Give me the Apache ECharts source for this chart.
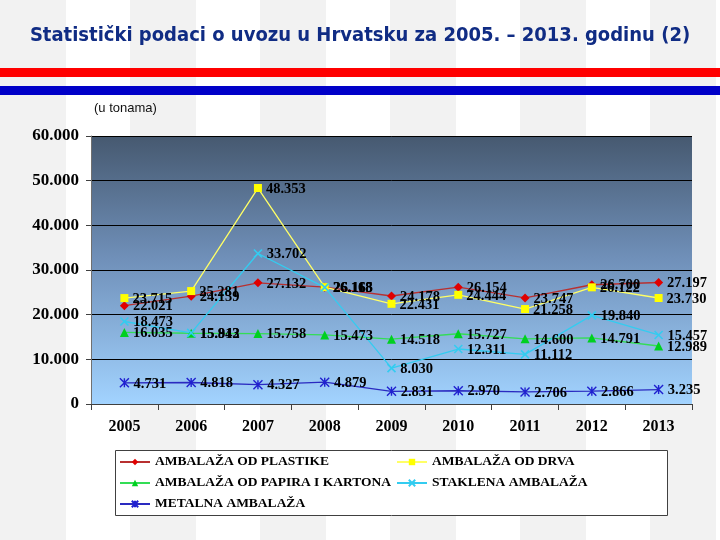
<!DOCTYPE html>
<html>
<head>
<meta charset="utf-8">
<script src="https://cdn.jsdelivr.net/npm/echarts@6/dist/echarts.min.js"></script>
<style>
html,body{margin:0;padding:0;}
body{width:720px;height:540px;background:repeating-linear-gradient(90deg,#f2f2f2 0px,#f2f2f2 66px,#ffffff 66px,#ffffff 130px);}
#chart{width:720px;height:540px;}
</style>
</head>
<body>
<div id="chart"></div>
<script>
var years = ['2005','2006','2007','2008','2009','2010','2011','2012','2013'];
var plastika = [22021, 24139, 27132, 26165, 24178, 26154, 23747, 26700, 27197];
var drvo     = [23715, 25281, 48353, 26168, 22431, 24444, 21258, 26122, 23730];
var papir    = [16035, 15843, 15758, 15473, 14518, 15727, 14600, 14791, 12989];
var staklo   = [18473, 15912, 33702, 26118, 8030, 12311, 11112, 19840, 15457];
var metal    = [4731, 4818, 4327, 4879, 2831, 2970, 2706, 2866, 3235];
var seriesNames = ['AMBALAŽA OD PLASTIKE','AMBALAŽA OD DRVA','AMBALAŽA OD PAPIRA I KARTONA','STAKLENA AMBALAŽA','METALNA AMBALAŽA'];
var yTicks = {min:0, max:60000, interval:10000};

function fmt(v){
  v = Math.round(v);
  if (v < 1000) return String(v);
  var t = Math.floor(v/1000), r = v % 1000;
  return t + '.' + (r < 10 ? '00' + r : r < 100 ? '0' + r : String(r));
}

var labelStyle = {
  show:true, position:'right', distance:4, offset:[0,1],
  fontFamily:'Liberation Serif', fontWeight:'bold', fontSize:14.5, color:'#000',
  formatter:function(p){return fmt(p.value);}
};

function mk(name, data, symbol, size, color, lineColor, extra){
  var s = {
    name:name, type:'line', data:data, symbol:symbol, symbolSize:size,
    itemStyle:{color:color},
    lineStyle:{color:lineColor, width:1.3},
    label:Object.assign({}, labelStyle),
    emphasis:{disabled:true}, animation:false
  };
  if (extra) { for (var k in extra) s[k] = extra[k]; }
  return s;
}

var legendCommon = {
  orient:'vertical', padding:0, itemWidth:30, itemHeight:8, itemGap:7,
  textStyle:{fontFamily:'Liberation Serif', fontWeight:'bold', fontSize:13.5, color:'#000'},
  selectedMode:false
};

var chart = echarts.init(document.getElementById('chart'), null, {renderer:'canvas'});
chart.setOption({
  backgroundColor:'transparent',
  animation:false,
  title:{
    text:'Statistički podaci o uvozu u Hrvatsku za 2005. – 2013. godinu (2)',
    left:'center', top:21,
    textStyle:{fontFamily:'DejaVu Sans Condensed', fontWeight:'bold', fontSize:20, color:'#102c84'}
  },
  graphic:[
    {type:'rect', shape:{x:0,y:68,width:720,height:9}, style:{fill:'#ff0000'}, silent:true},
    {type:'rect', shape:{x:0,y:86,width:720,height:9}, style:{fill:'#0000c8'}, silent:true},
    {type:'text', left:94, top:102, style:{text:'(u tonama)', fontFamily:'Liberation Sans', fontSize:13, fill:'#111'}},
    {type:'rect', shape:{x:115.5,y:450.5,width:552,height:65}, style:{fill:'#ffffff', stroke:'#404040', lineWidth:1}, z:-1, silent:true}
  ],
  grid:{
    left:91, right:28, top:136, bottom:136, show:true, borderWidth:0,
    backgroundColor:new echarts.graphic.LinearGradient(0,0,0,1,[
      {offset:0,color:'#465970'},
      {offset:0.45,color:'#6f8fb8'},
      {offset:1,color:'#a2d3ff'}
    ])
  },
  legend:[
    Object.assign({}, legendCommon, {data:[seriesNames[0], seriesNames[2], seriesNames[4]], left:119, top:455}),
    Object.assign({}, legendCommon, {data:[seriesNames[1], seriesNames[3]], left:396, top:455})
  ],
  xAxis:{
    type:'category', data:years, boundaryGap:true,
    axisLine:{lineStyle:{color:'#404040', width:1}},
    axisTick:{show:true, length:6, lineStyle:{color:'#404040'}},
    axisLabel:{margin:15, fontFamily:'Liberation Serif', fontWeight:'bold', fontSize:16, color:'#000'}
  },
  yAxis:{
    type:'value', min:yTicks.min, max:yTicks.max, interval:yTicks.interval,
    axisLine:{show:true, lineStyle:{color:'#707070', width:1}},
    axisTick:{show:true, length:5, lineStyle:{color:'#404040'}},
    splitLine:{show:true, lineStyle:{color:'#000', width:1}},
    axisLabel:{margin:12, fontFamily:'Liberation Serif', fontWeight:'bold', fontSize:17, color:'#000', formatter:fmt}
  },
  series:[
    mk(seriesNames[0], plastika, 'diamond', 9, '#e00000', '#b83030'),
    mk(seriesNames[1], drvo, 'rect', 8, '#ffff00', '#ffff66'),
    mk(seriesNames[2], papir, 'triangle', 9, '#00d020', '#33dd55'),
    mk(seriesNames[3], staklo, 'path://M0,0L10,10M10,0L0,10', 8, '#33ccf0', '#33ccf0',
       {itemStyle:{color:'#33ccf0', borderColor:'#33ccf0', borderWidth:1.6}}),
    mk(seriesNames[4], metal, 'path://M0,0L10,10M10,0L0,10M5,0L5,10', 9, '#2020d0', '#2a2ac0',
       {itemStyle:{color:'#2020d0', borderColor:'#2020d0', borderWidth:1.4}})
  ]
});
</script>
</body>
</html>
